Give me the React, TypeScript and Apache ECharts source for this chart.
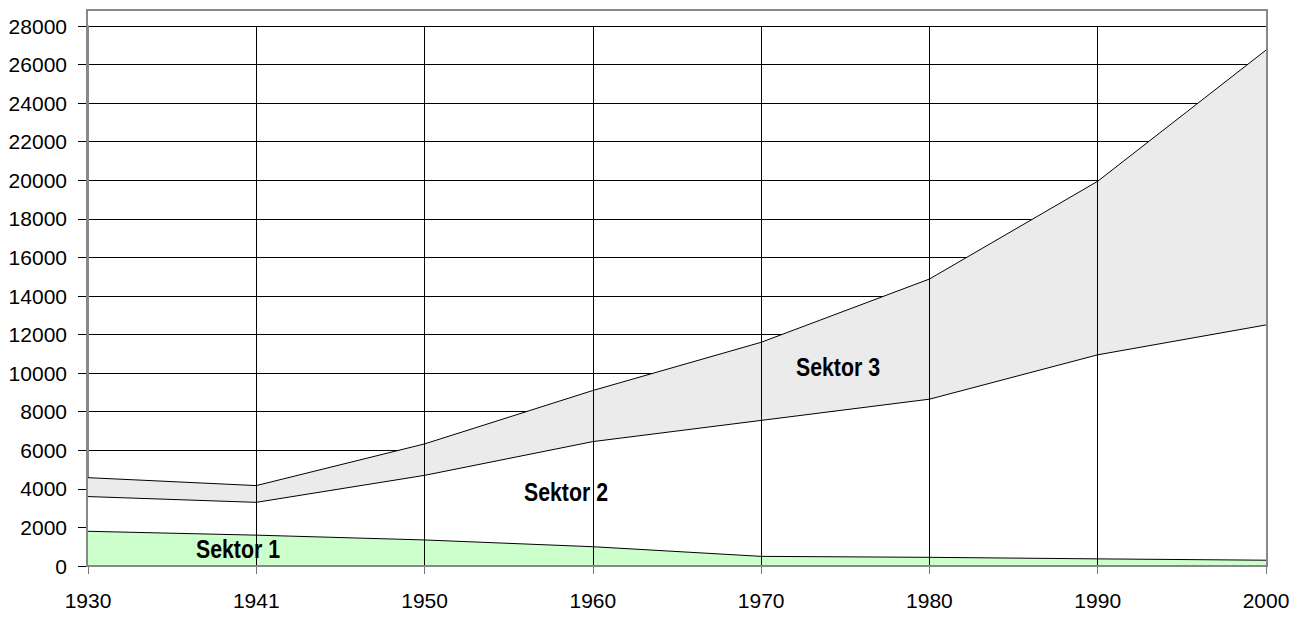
import React, { useEffect, useRef } from "react";
import * as echarts from "echarts";

const years = ["1930", "1941", "1950", "1960", "1970", "1980", "1990", "2000"];
const sektor1 = [1800, 1600, 1350, 1000, 500, 450, 370, 300];
const sektor2 = [1800, 1700, 3350, 5450, 7050, 8200, 10580, 12200];
const sektor3 = [980, 870, 1630, 2650, 4050, 6230, 9000, 14250];
const seriesNames = ["Sektor 1", "Sektor 2", "Sektor 3"];
const yMax = 28000;
const yStep = 2000;

const FONT = "'Liberation Sans', Arial, sans-serif";

export default function App() {
  const ref = useRef<HTMLDivElement>(null);
  useEffect(() => {
    if (!ref.current) return;
    const chart = echarts.init(ref.current, null, { renderer: "svg" });
    const mk = (name: string, data: number[], color: string) => ({
      name,
      type: "line",
      stack: "total",
      data,
      symbol: "none",
      z: 2,
      lineStyle: { color: "#000", width: 1 },
      areaStyle: { color, opacity: 1 },
    });
    const label = (text: string, x: number, y: number) => ({
      type: "text",
      z: 10,
      x,
      y,
      scaleX: 0.82,
      style: {
        text,
        font: `bold 26px ${FONT}`,
        fill: "#000",
        textAlign: "center",
        textVerticalAlign: "middle",
      },
    });
    const lastIdx = years.length - 1;
    chart.setOption({
      animation: false,
      backgroundColor: "#fff",
      grid: {
        left: 88,
        right: 38,
        top: 26,
        bottom: 53,
        containLabel: false,
        outerBoundsMode: "none",
      },
      xAxis: {
        type: "category",
        data: years,
        boundaryGap: false,
        z: 5,
        axisLine: { show: true, lineStyle: { color: "#333", width: 1 } },
        axisTick: { show: true, length: 8, alignWithLabel: true, lineStyle: { color: "#777" } },
        axisLabel: { color: "#000", fontSize: 21, fontFamily: FONT, margin: 24 },
        splitLine: {
          show: true,
          interval: (i: number) => i !== 0 && i !== lastIdx,
          lineStyle: { color: "#000", width: 1 },
        },
      },
      yAxis: {
        type: "value",
        min: 0,
        max: yMax,
        interval: yStep,
        z: 0,
        axisLine: { show: true, lineStyle: { color: "#888", width: 2 } },
        axisTick: { show: true, length: 10, lineStyle: { color: "#000" } },
        axisLabel: {
          color: "#000",
          fontSize: 21,
          fontFamily: FONT,
          margin: 21,
          formatter: (v: number) => String(v),
        },
        splitLine: { show: true, lineStyle: { color: "#000", width: 1 } },
      },
      graphic: [
        {
          type: "rect",
          z: 6,
          shape: { x: 87, y: 10, width: 1180, height: 556 },
          style: { fill: "none", stroke: "#888", lineWidth: 2 },
          silent: true,
        },
        label(seriesNames[0], 238, 549),
        label(seriesNames[1], 566, 492),
        label(seriesNames[2], 838, 367),
      ],
      series: [
        mk(seriesNames[0], sektor1, "#ccffcc"),
        mk(seriesNames[1], sektor2, "#ffffff"),
        mk(seriesNames[2], sektor3, "#ebebeb"),
      ],
    });
    return () => chart.dispose();
  }, []);
  return <div ref={ref} style={{ width: 1304, height: 619, position: "absolute", left: 0, top: 0 }} />;
}
